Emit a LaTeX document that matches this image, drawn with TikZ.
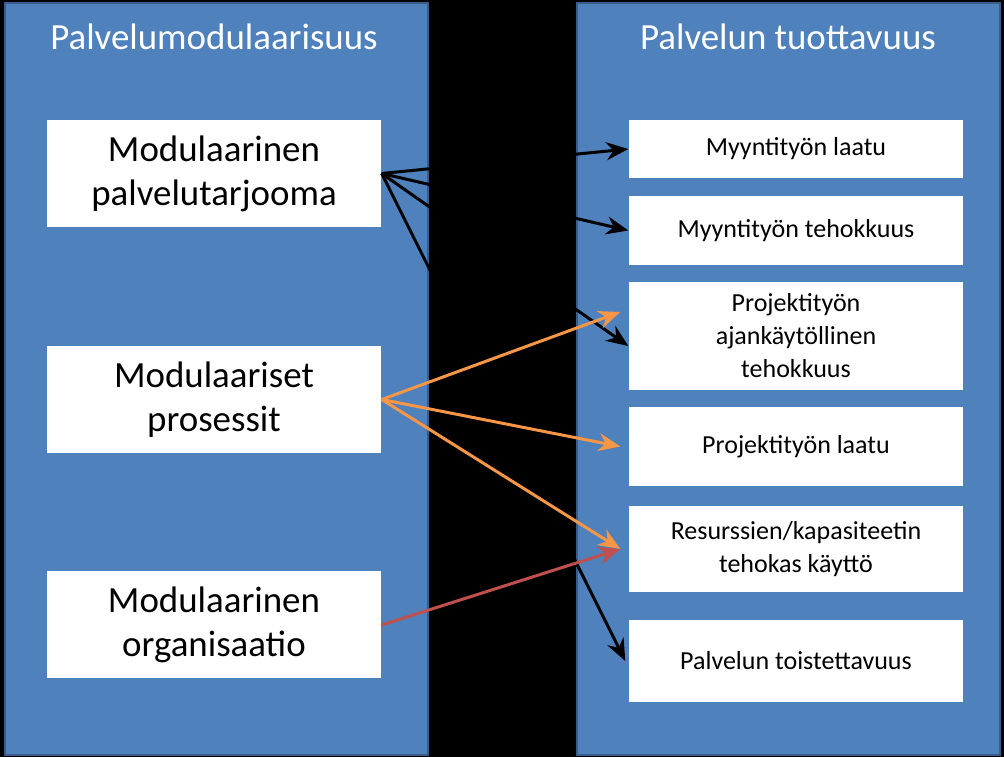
\documentclass[tikz,border=0pt]{standalone}
\usepackage{fontspec}
\setmainfont{Carlito}
\usetikzlibrary{positioning,arrows.meta}

\tikzset{
	panel/.style={fill=blue!35!cyan!30!black!0, draw=panelborder, line width=0.6pt, fill=panelblue},
	bigbox/.style={fill=white, minimum width=3.34cm, minimum height=1.07cm, align=center, font=\fontsize{10.5}{12.5}\selectfont},
	smallbox/.style={fill=white, minimum width=3.34cm, align=center, font=\fontsize{7.4}{9.4}\selectfont},
	title/.style={text=white, font=\fontsize{10.5}{12.5}\selectfont},
	link/.style={line width=0.85pt, -{Stealth[length=2.2mm,width=1.8mm]}},
}
\definecolor{panelblue}{HTML}{4F81BD}
\definecolor{panelborder}{HTML}{385D8A}
\definecolor{orangelink}{HTML}{F79646}
\definecolor{redlink}{HTML}{C0504D}

\begin{document}
\begin{tikzpicture}
	\useasboundingbox (0,0) rectangle (10.04,-7.57);
	\fill[black] (0,0) rectangle (10.04,-7.57);
	
	% panels
	\draw[panel] (0.05,-0.03) rectangle (4.28,-7.55);
	\draw[panel] (5.77,-0.03) rectangle (10.00,-7.55);
	\node[title] (tleft) at (2.14,-0.37) {Palvelumodulaarisuus};
	\node[title] (tright) at (7.88,-0.37) {Palvelun tuottavuus};
	
	% left boxes
	\node[bigbox] (tarjooma) at (2.14,-1.735) {Modulaarinen\\palvelutarjooma};
	\node[bigbox] (prosessit) at (2.14,-3.995) {Modulaariset\\prosessit};
	\node[bigbox] (organisaatio) at (2.14,-6.25) {Modulaarinen\\organisaatio};
	
	% right boxes
	\node[smallbox, minimum height=0.58cm] (laatu) at (7.96,-1.49) {Myyntityön laatu};
	\node[smallbox, minimum height=0.69cm] (tehokkuus) at (7.96,-2.305) {Myyntityön tehokkuus};
	\node[smallbox, minimum height=1.06cm] (ajankaytto) at (7.96,-3.36) {Projektityön\\ajankäytöllinen\\tehokkuus};
	\node[smallbox, minimum height=0.79cm] (projlaatu) at (7.96,-4.465) {Projektityön laatu};
	\node[smallbox, minimum height=0.86cm] (resurssit) at (7.96,-5.49) {Resurssien/kapasiteetin\\tehokas käyttö};
	\node[smallbox, minimum height=0.82cm] (toistettavuus) at (7.96,-6.61) {Palvelun toistettavuus};
	
	% links
	\draw[link, black] (tarjooma.east) -- (laatu.west);
	\draw[link, black] (tarjooma.east) -- (tehokkuus.west);
	\draw[link, black] (tarjooma.east) -- ([yshift=-1mm]ajankaytto.west);
	\draw[link, black] (tarjooma.east) -- ([xshift=-0.3mm]toistettavuus.west);
	\draw[link, orangelink] (prosessit.east) -- ([yshift=2.4mm,xshift=-0.8mm]ajankaytto.west);
	\draw[link, orangelink] (prosessit.east) -- ([xshift=-0.8mm]projlaatu.west);
	\draw[link, orangelink] (prosessit.east) -- ([xshift=-0.8mm]resurssit.west);
	\draw[link, redlink] (organisaatio.east) -- ([xshift=-0.8mm]resurssit.west);
\end{tikzpicture}
\end{document}
